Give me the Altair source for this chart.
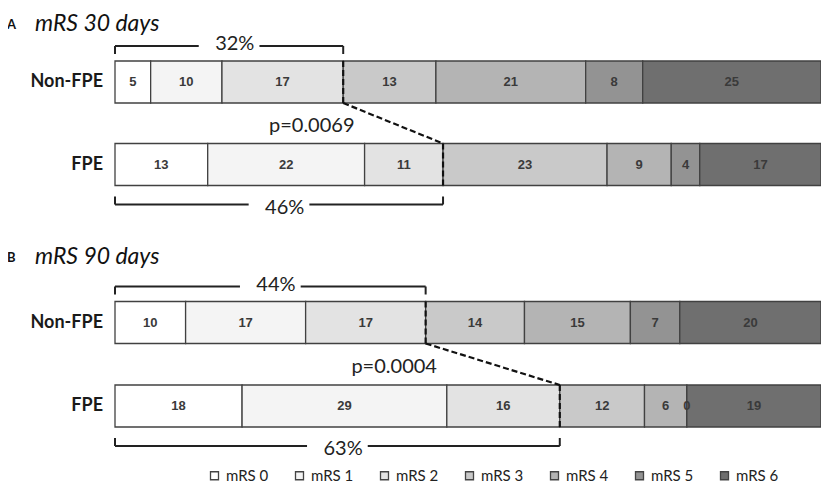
import altair as alt
import pandas as pd

# ---------------- data ----------------
CATEGORIES = ["mRS 0", "mRS 1", "mRS 2", "mRS 3", "mRS 4", "mRS 5", "mRS 6"]
GROUPS = ["Non-FPE", "FPE"]
PANELS = ["A", "B"]
PANEL_TITLES = ["mRS 30 days", "mRS 90 days"]

NONFPE_30 = [5, 10, 17, 13, 21, 8, 25]
FPE_30 = [13, 22, 11, 23, 9, 4, 17]
NONFPE_90 = [10, 17, 17, 14, 15, 7, 20]
FPE_90 = [18, 29, 16, 12, 6, 0, 19]

GOOD_PCT_30 = ["32%", "46%"]
GOOD_PCT_90 = ["44%", "63%"]
P_VALUES = ["p=0.0069", "p=0.0004"]

GRAYS = ["#ffffff", "#f4f4f4", "#e3e3e3", "#c9c9c9", "#b4b4b4", "#939393", "#6f6f6f"]

# ---------------- layout (row positions on the y lane scale) ----------------
ROW_CENTER = {("A", "Non-FPE"): 0.0, ("A", "FPE"): 82.5,
              ("B", "Non-FPE"): 240.5, ("B", "FPE"): 324.0}
TITLE_OFFSET = {"A": -51, "B": -59}
BAR_HALF = 21
GOOD_LAST = 2  # mRS 0-2 = good outcome
GAP = 4.3      # half-gap in bracket line around its label (x units)

values = {("A", "Non-FPE"): NONFPE_30, ("A", "FPE"): FPE_30,
          ("B", "Non-FPE"): NONFPE_90, ("B", "FPE"): FPE_90}
pct = {"A": GOOD_PCT_30, "B": GOOD_PCT_90}

bars, brackets, dashed, pcts, pvals, rowlabels, titles = [], [], [], [], [], [], []
boundary = {}
for pi, panel in enumerate(PANELS):
    for gi, grp in enumerate(GROUPS):
        vals = values[(panel, grp)]
        total = sum(vals)
        c = ROW_CENTER[(panel, grp)]
        cum = 0
        for k, (cat, v) in enumerate(zip(CATEGORIES, vals)):
            s = cum / total * 100
            cum += v
            e = cum / total * 100
            bars.append(dict(cat=cat, v=v, x=s, x2=e, mid=(s + e) / 2,
                             y=c - BAR_HALF, y2=c + BAR_HALF, yc=c))
            if k == GOOD_LAST:
                boundary[(panel, grp)] = e
        rowlabels.append(dict(label=grp, x=0, y=c))
        b = boundary[(panel, grp)]
        m = b / 2
        if grp == "Non-FPE":
            ly, ty, txy = c - 36, c - 28, c - 38
        else:
            ly, ty, txy = c + 40, c + 32, c + 43
        brackets += [dict(x=0, x2=m - GAP, y=ly, y2=ly),
                     dict(x=m + GAP, x2=b, y=ly, y2=ly),
                     dict(x=0, x2=0, y=ly, y2=ty),
                     dict(x=b, x2=b, y=ly, y2=ty)]
        pcts.append(dict(label=pct[panel][gi], x=m + 0.8, y=txy))
        dashed.append(dict(x=b, x2=b, y=c - BAR_HALF, y2=c + BAR_HALF))
    cn = ROW_CENTER[(panel, "Non-FPE")]
    cf = ROW_CENTER[(panel, "FPE")]
    bn, bf = boundary[(panel, "Non-FPE")], boundary[(panel, "FPE")]
    dashed.append(dict(x=bn, x2=bf, y=cn + BAR_HALF, y2=cf - BAR_HALF))
    pvals.append(dict(label=P_VALUES[pi], x=bn + 1.6, y=cn + 44))
    titles.append(dict(letter=panel, title=PANEL_TITLES[pi], x=0,
                       y=cn + TITLE_OFFSET[panel]))

bars = pd.DataFrame(bars)
brackets = pd.DataFrame(brackets)
dashed = pd.DataFrame(dashed)
pcts = pd.DataFrame(pcts)
pvals = pd.DataFrame(pvals)
rowlabels = pd.DataFrame(rowlabels)
titles = pd.DataFrame(titles)

XS = alt.Scale(domain=[0, 100], nice=False, zero=False)
YS = alt.Scale(domain=[-74, 402], reverse=True, nice=False, zero=False)

def X(f):
    return alt.X(f, type="quantitative", scale=XS, axis=None)

def Y(f):
    return alt.Y(f, type="quantitative", scale=YS, axis=None)

bar_layer = alt.Chart(bars).mark_rect(stroke="#414141", strokeWidth=1.3).encode(
    x=X("x"), x2="x2", y=Y("y"), y2="y2",
    fill=alt.Fill("cat:N", scale=alt.Scale(domain=CATEGORIES, range=GRAYS),
                  legend=alt.Legend(orient="none", legendX=92, legendY=460,
                                    direction="horizontal", columns=7, title=None,
                                    symbolType="square", symbolSize=64,
                                    symbolStrokeColor="#444444", symbolStrokeWidth=1.3,
                                    labelFont="Lato", labelFontSize=15,
                                    labelColor="#222222", labelOffset=4,
                                    columnPadding=23, gridAlign="all")),
)

num_layer = alt.Chart(bars).mark_text(font="Liberation Sans", fontSize=13,
                                      fontWeight="bold", color="#3a3a3a").encode(
    x=X("mid"), y=Y("yc"), text="v:Q")

bracket_layer = alt.Chart(brackets).mark_rule(color="#222222", strokeWidth=2).encode(
    x=X("x"), x2="x2", y=Y("y"), y2="y2")

dash_layer = alt.Chart(dashed).mark_rule(color="#111111", strokeWidth=2.2,
                                         strokeDash=[6, 3]).encode(
    x=X("x"), x2="x2", y=Y("y"), y2="y2")

pct_layer = alt.Chart(pcts).mark_text(font="Lato", fontSize=20, color="#222222",
                                      baseline="middle").encode(
    x=X("x"), y=Y("y"), text="label:N")

p_layer = alt.Chart(pvals).mark_text(font="Lato", fontSize=20, color="#222222",
                                     align="right", baseline="middle").encode(
    x=X("x"), y=Y("y"), text="label:N")

row_layer = alt.Chart(rowlabels).mark_text(font="Lato", fontSize=18, fontWeight="bold",
                                           color="#1a1a1a", align="right",
                                           baseline="middle", dx=-12).encode(
    x=X("x"), y=Y("y"), text="label:N")

letter_layer = alt.Chart(titles).mark_text(font="Lato", fontSize=13, fontWeight="bold",
                                           color="#111111", align="left",
                                           baseline="alphabetic", dx=-108, dy=-2).encode(
    x=X("x"), y=Y("y"), text="letter:N")

title_layer = alt.Chart(titles).mark_text(font="Lato", fontSize=23, fontStyle="italic",
                                          color="#111111", align="left",
                                          baseline="alphabetic", dx=-80).encode(
    x=X("x"), y=Y("y"), text="title:N")

chart = alt.layer(
    bar_layer, num_layer, bracket_layer, dash_layer, pct_layer, p_layer,
    row_layer, letter_layer, title_layer
).properties(
    width=706, height=476,
    autosize=alt.AutoSizeParams(type="none"),
    padding={"left": 107, "top": 0, "right": 0, "bottom": 0},
).configure_view(stroke=None)

chart.save("out.html", embed_options={"renderer": "svg", "actions": False})
